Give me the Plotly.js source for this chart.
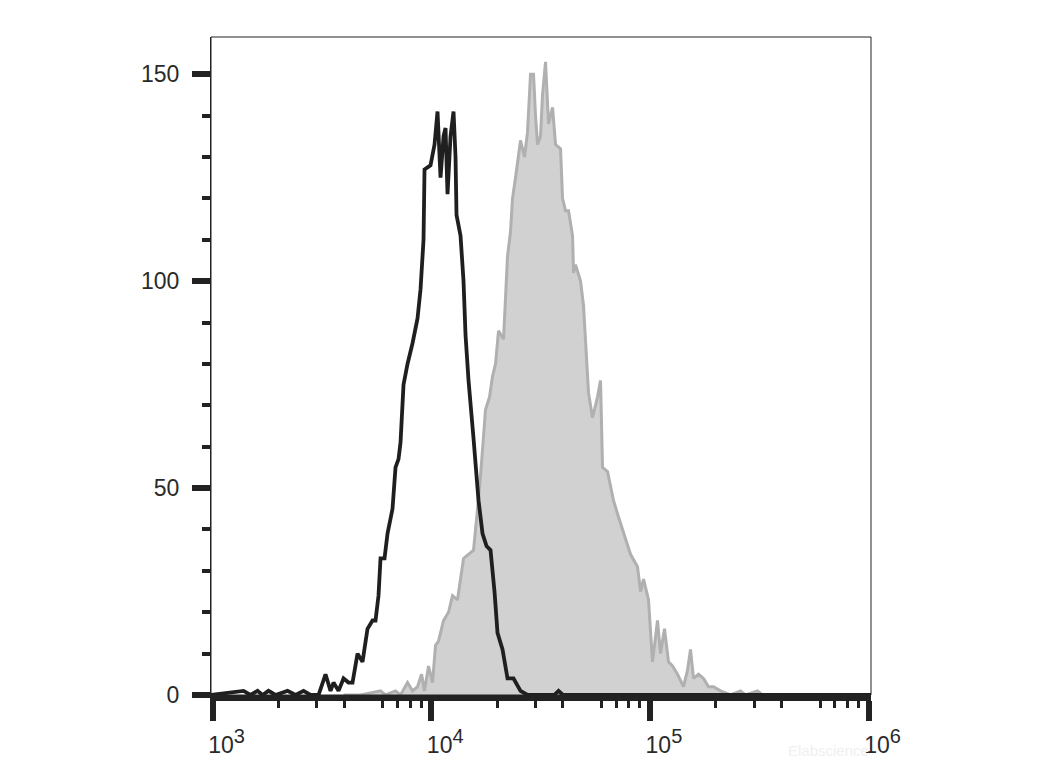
<!DOCTYPE html>
<html>
<head>
<meta charset="utf-8">
<script src="https://cdn.plot.ly/plotly-3.0.1.min.js"></script>
<style>
  html, body { margin: 0; padding: 0; background: #ffffff; }
  #chart { width: 1040px; height: 780px; }
</style>
</head>
<body>
<div id="chart"></div>
<script>
// Unstained / control histogram (black outline)
var controlX = [980, 1386, 1492, 1606, 1693, 1803, 1941, 2203, 2396, 2607, 2806, 3053, 3286, 3464, 3575, 3768, 3972, 4186, 4367, 4603, 4851, 5113, 5390, 5563, 5741, 5864, 6116, 6312, 6653, 6867, 7087, 7238, 7470, 7792, 8213, 8657, 8935, 9222, 9319, 9927, 10354, 10686, 11030, 11384, 11626, 11873, 12254, 12647, 12916, 13053, 13614, 14051, 14350, 14811, 15611, 16456, 17163, 17901, 18671, 19473, 20098, 21185, 22330, 23786, 25606, 27563, 31606, 36500, 38210, 40000, 1030000];
var controlY = [0, 1, 0, 1, 0, 1, 0, 1, 0, 1, 0, 0, 5, 1, 3, 1, 4, 3, 3, 10, 8, 16, 18, 18, 24, 33, 33, 39, 45, 55, 57, 61, 75, 80, 85, 91, 98, 110, 127, 128, 133, 141, 125, 135, 137, 121, 135, 141, 130, 116, 111, 100, 87, 76, 62, 47, 39, 36, 35, 25, 15, 11, 4, 4, 1, 0, 0, 0, 1, 0, 0];

// Stained sample histogram (grey filled)
var stainedX = [3972, 4750, 5864, 6181, 6867, 7238, 7792, 8213, 8657, 9030, 9319, 9721, 10139, 10464, 10799, 11384, 11998, 12514, 13191, 14051, 14811, 15611, 16284, 16806, 17715, 18476, 19068, 19680, 20312, 21409, 21865, 22330, 23047, 23538, 24290, 25606, 26710, 27563, 28450, 29360, 29990, 30630, 31606, 32280, 33320, 34390, 35870, 37020, 39020, 39850, 41130, 42450, 44280, 44750, 45700, 48170, 49720, 50770, 52400, 54640, 57600, 59450, 60710, 63990, 68160, 71850, 74940, 78990, 81520, 87760, 90580, 93490, 98540, 102770, 108330, 111810, 116620, 121630, 126860, 133730, 142440, 148570, 153330, 158260, 166820, 175840, 185340, 195360, 210300, 233700, 259600, 273600, 310500, 327300, 1030000];
var stainedY = [0, 0, 1, 0, 1, 0, 3, 1, 2, 5, 1, 7, 3, 12, 13, 18, 20, 24, 23, 33, 34, 35, 45, 53, 69, 72, 77, 80, 88, 86, 96, 106, 112, 120, 125, 134, 130, 136, 150, 150, 140, 133, 135, 145, 153, 138, 142, 133, 132, 120, 117, 117, 111, 102, 104, 100, 94, 85, 73, 67, 72, 76, 55, 54, 47, 43, 40, 36, 34, 31, 25, 28, 23, 8, 18, 10, 16, 8, 7, 5, 2, 6, 11, 4, 5, 4, 2, 2, 1, 0, 1, 0, 1, 0, 0];

// Axis ticks
var xTickVals = [1e3, 1e4, 1e5, 1e6];
var xTickExponents = ['3', '4', '5', '6'];
var xMinorVals = [2e3, 3e3, 4e3, 6e3, 7e3, 8e3, 9e3, 2e4, 3e4, 4e4, 6e4, 7e4, 8e4, 9e4, 2e5, 3e5, 4e5, 6e5, 7e5, 8e5, 9e5];
var xMidVals = [5e3, 5e4, 5e5];
var yTickVals = [0, 50, 100, 150];
var yTickText = ['0', '50', '100', '150'];

var xTickText = xTickExponents.map(function (e) {
  return '10<sup><span style="font-size:20px">' + e + '</span></sup>';
});

var axisColor = '#222222';
var labelFont = { family: 'Liberation Sans, Arial, sans-serif', size: 23, color: '#2a2a2a' };

var traces = [
  {
    x: stainedX, y: stainedY, type: 'scatter', mode: 'lines',
    fill: 'tozeroy', fillcolor: 'rgb(209,209,209)',
    line: { color: 'rgb(176,176,176)', width: 3, shape: 'linear' },
    hoverinfo: 'skip', showlegend: false
  },
  {
    x: controlX, y: controlY, type: 'scatter', mode: 'lines',
    line: { color: '#1f1f1f', width: 3.8, shape: 'linear' },
    hoverinfo: 'skip', showlegend: false
  }
];

var xRange = [2.993, 6.011];

var layout = {
  width: 1040, height: 780,
  margin: { l: 211, r: 169, t: 37, b: 85, pad: 0 },
  paper_bgcolor: '#ffffff', plot_bgcolor: '#ffffff',
  showlegend: false,
  xaxis: {
    type: 'log', range: xRange, autorange: false,
    tickmode: 'array', tickvals: xTickVals, ticktext: xTickText,
    ticks: 'outside', ticklen: 20, tickwidth: 6, tickcolor: axisColor,
    showline: true, linecolor: axisColor, linewidth: 6,
    showgrid: false, zeroline: false,
    tickfont: labelFont, ticklabelshift: 14, ticklabelstandoff: 4,
    minor: { tickmode: 'array', tickvals: xMinorVals, ticks: 'outside', ticklen: 7, tickwidth: 3, tickcolor: axisColor, showgrid: false },
    fixedrange: true
  },
  xaxis2: {
    type: 'log', range: xRange, autorange: false, overlaying: 'x', anchor: 'y', side: 'bottom',
    tickmode: 'array', tickvals: xMidVals, showticklabels: false,
    ticks: 'outside', ticklen: 13, tickwidth: 4, tickcolor: axisColor,
    showline: false, showgrid: false, zeroline: false, fixedrange: true
  },
  yaxis: {
    range: [0, 159], autorange: false,
    tickmode: 'array', tickvals: yTickVals, ticktext: yTickText,
    ticks: 'outside', ticklen: 18, tickwidth: 6, tickcolor: axisColor,
    showline: true, linecolor: axisColor, linewidth: 1,
    showgrid: false, zeroline: false,
    tickfont: labelFont, ticklabelstandoff: 8,
    minor: { dtick: 10, ticks: 'outside', ticklen: 8, tickwidth: 4, tickcolor: axisColor, showgrid: false },
    fixedrange: true
  },
  shapes: [
    { type: 'rect', xref: 'paper', yref: 'paper', x0: 0, x1: 1, y0: 0, y1: 1,
      line: { color: axisColor, width: 1 }, fillcolor: 'rgba(0,0,0,0)', layer: 'above' }
  ],
  annotations: [
    { xref: 'paper', yref: 'paper', x: 1.0, y: -0.085, xanchor: 'right', yanchor: 'middle',
      text: 'Elabscience', showarrow: false,
      font: { family: 'Liberation Sans, Arial, sans-serif', size: 15, color: '#f0f0f0' } }
  ]
};

Plotly.newPlot('chart', traces, layout, { displayModeBar: false, staticPlot: true });
</script>
</body>
</html>
